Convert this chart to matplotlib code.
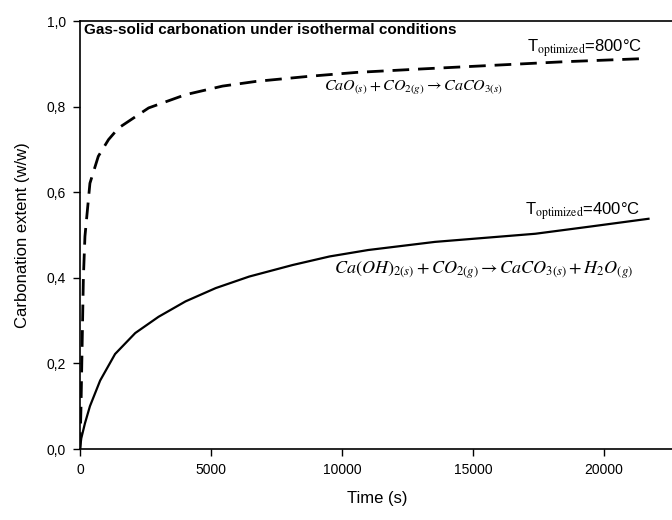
import matplotlib
matplotlib.use("Agg")
import matplotlib.pyplot as plt
import matplotlib.ticker as mticker

plt.rcParams['font.family'] = ['Liberation Sans', 'DejaVu Sans']
plt.rcParams['mathtext.fontset'] = 'stix'

# CaO + CO2 at 800 C (dashed)
t_800 = [0, 40, 70, 100, 130, 190, 380, 700, 1090, 1470, 2620, 4030, 5440,
         6720, 8760, 10550, 13000, 15580, 18500, 21400]
x_800 = [0.0, 0.10, 0.20, 0.30, 0.40, 0.497, 0.621, 0.684, 0.723, 0.750, 0.797,
         0.828, 0.848, 0.859, 0.871, 0.880, 0.888, 0.896, 0.905, 0.912]

# Ca(OH)2 + CO2 at 400 C (solid)
t_400 = [0, 50, 190, 380, 770, 1340, 2110, 3000, 4030, 5180, 6460, 8120, 9530,
         11000, 13550, 17380, 19500, 21700]
x_400 = [0.0, 0.025, 0.060, 0.100, 0.160, 0.222, 0.271, 0.309, 0.345, 0.376,
         0.403, 0.430, 0.450, 0.465, 0.484, 0.503, 0.520, 0.538]

x_ticks = [0, 5000, 10000, 15000, 20000]
y_ticks = [0.0, 0.2, 0.4, 0.6, 0.8, 1.0]

fig = plt.figure(figsize=(6.72, 5.2), dpi=100)
ax = fig.add_axes([0.119, 0.1365, 0.885, 0.823])

ax.plot(t_800, x_800, color='black', linewidth=2.0, linestyle=(0, (6.0, 3.2)))
ax.plot(t_400, x_400, color='black', linewidth=1.6)

ax.set_xlim(0, 22700)
ax.set_ylim(0, 1.0)
ax.set_xticks(x_ticks)
ax.set_yticks(y_ticks)
ax.yaxis.set_major_formatter(mticker.FuncFormatter(lambda v, p: f'{v:.1f}'.replace('.', ',')))
ax.tick_params(direction='out', length=5, width=1, labelsize=10, pad=5)
ax.spines['right'].set_visible(False)
for s in ['left', 'bottom', 'top']:
    ax.spines[s].set_linewidth(1.2)

ax.set_xlabel('Time (s)', fontsize=12, labelpad=10)
ax.set_ylabel('Carbonation extent (w/w)', fontsize=12, labelpad=12)

ax.text(0.006, 0.980, 'Gas-solid carbonation under isothermal conditions',
        transform=ax.transAxes, fontsize=11, fontweight='bold', va='center', ha='left')

ax.text(17076, 0.929, r'T$_{\mathrm{optimized}}$=800°C', fontsize=12, ha='left', va='baseline')
ax.text(9300, 0.843, r'$CaO_{(s)}+CO_{2(g)}\rightarrow CaCO_{3(s)}$', fontsize=11.5,
        ha='left', va='center')
ax.text(17000, 0.547, r'T$_{\mathrm{optimized}}$=400°C', fontsize=12, ha='left', va='baseline')
ax.text(9710, 0.419, r'$Ca(OH)_{2(s)}+CO_{2(g)}\rightarrow CaCO_{3(s)}+H_2O_{(g)}$',
        fontsize=13, ha='left', va='center')

fig.savefig('out.png', dpi=100)
